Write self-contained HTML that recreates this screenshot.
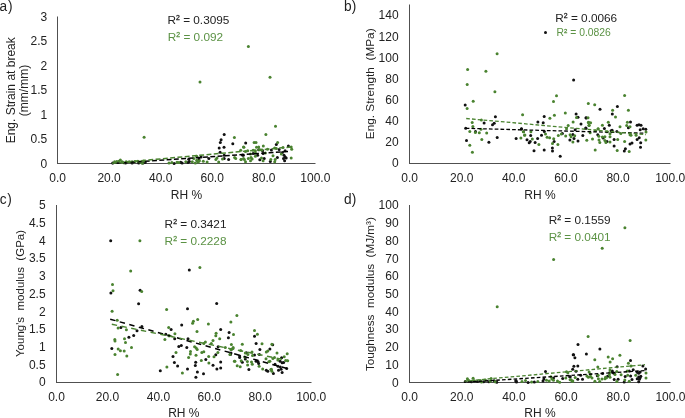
<!DOCTYPE html><html><head><meta charset="utf-8"><style>html,body{margin:0;padding:0;background:#fff;width:685px;height:418px;overflow:hidden}svg{display:block;will-change:transform}text{font-family:"Liberation Sans",sans-serif;font-size:12px;fill:#222}</style></head><body>
<svg width="685" height="418" viewBox="0 0 685 418">
<g><text transform="translate(-0.6 10.9) scale(1 1.07)" style="font-size:13.7px">a<tspan dx="0.9">)</tspan></text><text x="15.1" y="90.3" text-anchor="middle" style="font-size:12px;white-space:pre" transform="rotate(-90 15.1 90.3)">Eng. Strain at break</text><text x="28.4" y="90.5" text-anchor="middle" style="font-size:12px;white-space:pre" transform="rotate(-90 28.4 90.5)">(mm/mm)</text><text x="47.3" y="167.7" text-anchor="end">0</text><text x="47.3" y="143.2" text-anchor="end">0.5</text><text x="47.3" y="118.7" text-anchor="end">1</text><text x="47.3" y="94.2" text-anchor="end">1.5</text><text x="47.3" y="69.8" text-anchor="end">2</text><text x="47.3" y="45.3" text-anchor="end">2.5</text><text x="47.3" y="20.8" text-anchor="end">3</text><text x="57.6" y="182.0" text-anchor="middle">0.0</text><text x="109.1" y="182.0" text-anchor="middle">20.0</text><text x="160.7" y="182.0" text-anchor="middle">40.0</text><text x="212.2" y="182.0" text-anchor="middle">60.0</text><text x="263.8" y="182.0" text-anchor="middle">80.0</text><text x="315.3" y="182.0" text-anchor="middle">100.0</text><text x="186.5" y="199.0" text-anchor="middle">RH %</text><rect x="57.00" y="16.50" width="1" height="147.50" fill="#505050"/><rect x="57.00" y="163.00" width="258.50" height="1" fill="#505050"/><circle cx="112.7" cy="163.0" r="1.5" fill="#111"/><circle cx="125.5" cy="163.1" r="1.5" fill="#111"/><circle cx="132.1" cy="163.1" r="1.5" fill="#111"/><circle cx="138.7" cy="163.1" r="1.5" fill="#111"/><circle cx="143.0" cy="163.0" r="1.5" fill="#111"/><circle cx="145.2" cy="162.4" r="1.5" fill="#111"/><circle cx="174.1" cy="163.4" r="1.5" fill="#111"/><circle cx="180.7" cy="162.2" r="1.5" fill="#111"/><circle cx="182.1" cy="162.9" r="1.5" fill="#111"/><circle cx="188.0" cy="162.5" r="1.5" fill="#111"/><circle cx="189.4" cy="161.4" r="1.5" fill="#111"/><circle cx="188.7" cy="159.2" r="1.5" fill="#111"/><circle cx="197.8" cy="161.4" r="1.5" fill="#111"/><circle cx="198.9" cy="158.9" r="1.5" fill="#111"/><circle cx="224.2" cy="134.5" r="1.5" fill="#111"/><circle cx="221.1" cy="139.8" r="1.5" fill="#111"/><circle cx="220.3" cy="142.6" r="1.5" fill="#111"/><circle cx="219.2" cy="148.1" r="1.5" fill="#111"/><circle cx="224.0" cy="147.3" r="1.5" fill="#111"/><circle cx="232.8" cy="143.7" r="1.5" fill="#111"/><circle cx="220.1" cy="152.3" r="1.5" fill="#111"/><circle cx="201.1" cy="156.9" r="1.5" fill="#111"/><circle cx="208.8" cy="158.5" r="1.5" fill="#111"/><circle cx="224.2" cy="155.2" r="1.5" fill="#111"/><circle cx="224.2" cy="158.5" r="1.5" fill="#111"/><circle cx="228.6" cy="159.4" r="1.5" fill="#111"/><circle cx="242.4" cy="155.0" r="1.5" fill="#111"/><circle cx="245.7" cy="142.9" r="1.5" fill="#111"/><circle cx="276.3" cy="144.4" r="1.5" fill="#111"/><circle cx="288.4" cy="146.1" r="1.5" fill="#111"/><circle cx="258.7" cy="149.7" r="1.5" fill="#111"/><circle cx="262.6" cy="150.8" r="1.5" fill="#111"/><circle cx="271.4" cy="149.9" r="1.5" fill="#111"/><circle cx="279.1" cy="149.5" r="1.5" fill="#111"/><circle cx="285.1" cy="150.8" r="1.5" fill="#111"/><circle cx="282.4" cy="152.5" r="1.5" fill="#111"/><circle cx="243.3" cy="155.2" r="1.5" fill="#111"/><circle cx="253.2" cy="153.6" r="1.5" fill="#111"/><circle cx="257.6" cy="155.2" r="1.5" fill="#111"/><circle cx="263.1" cy="153.6" r="1.5" fill="#111"/><circle cx="284.0" cy="155.2" r="1.5" fill="#111"/><circle cx="285.1" cy="156.9" r="1.5" fill="#111"/><circle cx="286.2" cy="158.0" r="1.5" fill="#111"/><circle cx="283.5" cy="158.5" r="1.5" fill="#111"/><circle cx="277.4" cy="157.4" r="1.5" fill="#111"/><circle cx="264.2" cy="158.5" r="1.5" fill="#111"/><circle cx="259.8" cy="159.8" r="1.5" fill="#111"/><circle cx="270.3" cy="161.6" r="1.5" fill="#111"/><circle cx="284.6" cy="160.7" r="1.5" fill="#111"/><circle cx="248.4" cy="46.5" r="1.5" fill="#4a8330"/><circle cx="200.0" cy="82.0" r="1.5" fill="#4a8330"/><circle cx="270.0" cy="77.2" r="1.5" fill="#4a8330"/><circle cx="144.1" cy="137.3" r="1.5" fill="#4a8330"/><circle cx="114.6" cy="161.7" r="1.5" fill="#4a8330"/><circle cx="116.8" cy="161.5" r="1.5" fill="#4a8330"/><circle cx="118.9" cy="161.3" r="1.5" fill="#4a8330"/><circle cx="120.4" cy="159.9" r="1.5" fill="#4a8330"/><circle cx="122.2" cy="161.7" r="1.5" fill="#4a8330"/><circle cx="123.7" cy="162.8" r="1.5" fill="#4a8330"/><circle cx="126.2" cy="161.7" r="1.5" fill="#4a8330"/><circle cx="129.2" cy="161.8" r="1.5" fill="#4a8330"/><circle cx="132.1" cy="161.7" r="1.5" fill="#4a8330"/><circle cx="135.0" cy="161.5" r="1.5" fill="#4a8330"/><circle cx="137.9" cy="161.3" r="1.5" fill="#4a8330"/><circle cx="140.1" cy="162.0" r="1.5" fill="#4a8330"/><circle cx="142.3" cy="163.3" r="1.5" fill="#4a8330"/><circle cx="143.8" cy="161.0" r="1.5" fill="#4a8330"/><circle cx="169.0" cy="162.9" r="1.5" fill="#4a8330"/><circle cx="171.9" cy="162.5" r="1.5" fill="#4a8330"/><circle cx="177.0" cy="162.2" r="1.5" fill="#4a8330"/><circle cx="178.8" cy="162.5" r="1.5" fill="#4a8330"/><circle cx="185.8" cy="161.8" r="1.5" fill="#4a8330"/><circle cx="192.3" cy="161.8" r="1.5" fill="#4a8330"/><circle cx="195.3" cy="162.9" r="1.5" fill="#4a8330"/><circle cx="196.7" cy="160.3" r="1.5" fill="#4a8330"/><circle cx="193.8" cy="158.5" r="1.5" fill="#4a8330"/><circle cx="234.4" cy="137.4" r="1.5" fill="#4a8330"/><circle cx="243.5" cy="147.0" r="1.5" fill="#4a8330"/><circle cx="240.7" cy="150.3" r="1.5" fill="#4a8330"/><circle cx="196.7" cy="156.3" r="1.5" fill="#4a8330"/><circle cx="199.4" cy="160.7" r="1.5" fill="#4a8330"/><circle cx="203.3" cy="161.3" r="1.5" fill="#4a8330"/><circle cx="207.1" cy="161.9" r="1.5" fill="#4a8330"/><circle cx="215.9" cy="159.4" r="1.5" fill="#4a8330"/><circle cx="217.0" cy="158.0" r="1.5" fill="#4a8330"/><circle cx="218.7" cy="161.9" r="1.5" fill="#4a8330"/><circle cx="222.5" cy="159.1" r="1.5" fill="#4a8330"/><circle cx="234.6" cy="157.4" r="1.5" fill="#4a8330"/><circle cx="235.7" cy="158.5" r="1.5" fill="#4a8330"/><circle cx="241.0" cy="159.4" r="1.5" fill="#4a8330"/><circle cx="243.5" cy="158.5" r="1.5" fill="#4a8330"/><circle cx="198.3" cy="161.9" r="1.5" fill="#4a8330"/><circle cx="275.5" cy="126.3" r="1.5" fill="#4a8330"/><circle cx="265.9" cy="134.5" r="1.5" fill="#4a8330"/><circle cx="254.1" cy="142.6" r="1.5" fill="#4a8330"/><circle cx="256.0" cy="142.6" r="1.5" fill="#4a8330"/><circle cx="277.6" cy="142.6" r="1.5" fill="#4a8330"/><circle cx="243.9" cy="147.3" r="1.5" fill="#4a8330"/><circle cx="263.3" cy="146.1" r="1.5" fill="#4a8330"/><circle cx="256.5" cy="147.3" r="1.5" fill="#4a8330"/><circle cx="258.7" cy="147.0" r="1.5" fill="#4a8330"/><circle cx="291.2" cy="147.0" r="1.5" fill="#4a8330"/><circle cx="291.7" cy="149.2" r="1.5" fill="#4a8330"/><circle cx="245.5" cy="151.4" r="1.5" fill="#4a8330"/><circle cx="247.7" cy="150.8" r="1.5" fill="#4a8330"/><circle cx="253.2" cy="150.3" r="1.5" fill="#4a8330"/><circle cx="255.4" cy="150.8" r="1.5" fill="#4a8330"/><circle cx="259.8" cy="149.7" r="1.5" fill="#4a8330"/><circle cx="262.0" cy="149.9" r="1.5" fill="#4a8330"/><circle cx="274.7" cy="148.1" r="1.5" fill="#4a8330"/><circle cx="276.3" cy="148.6" r="1.5" fill="#4a8330"/><circle cx="250.5" cy="154.1" r="1.5" fill="#4a8330"/><circle cx="255.4" cy="153.0" r="1.5" fill="#4a8330"/><circle cx="265.3" cy="153.0" r="1.5" fill="#4a8330"/><circle cx="273.0" cy="155.8" r="1.5" fill="#4a8330"/><circle cx="281.3" cy="154.1" r="1.5" fill="#4a8330"/><circle cx="291.2" cy="158.0" r="1.5" fill="#4a8330"/><circle cx="241.1" cy="159.6" r="1.5" fill="#4a8330"/><circle cx="244.4" cy="159.6" r="1.5" fill="#4a8330"/><circle cx="248.3" cy="158.5" r="1.5" fill="#4a8330"/><circle cx="251.0" cy="157.4" r="1.5" fill="#4a8330"/><circle cx="252.1" cy="159.1" r="1.5" fill="#4a8330"/><circle cx="255.4" cy="156.3" r="1.5" fill="#4a8330"/><circle cx="261.5" cy="158.0" r="1.5" fill="#4a8330"/><circle cx="263.1" cy="160.7" r="1.5" fill="#4a8330"/><circle cx="270.8" cy="159.6" r="1.5" fill="#4a8330"/><circle cx="275.2" cy="159.6" r="1.5" fill="#4a8330"/><circle cx="274.7" cy="161.8" r="1.5" fill="#4a8330"/><circle cx="245.5" cy="161.8" r="1.5" fill="#4a8330"/><circle cx="250.5" cy="160.7" r="1.5" fill="#4a8330"/><circle cx="267.5" cy="149.2" r="1.5" fill="#4a8330"/><circle cx="283.0" cy="147.4" r="1.5" fill="#4a8330"/><line x1="112.0" y1="163.5" x2="290.0" y2="151.3" stroke="#000" stroke-width="1.5" stroke-dasharray="4.9 2.4" stroke-dashoffset="3.65"/><line x1="112.0" y1="163.3" x2="292.0" y2="146.9" stroke="#4a8330" stroke-width="1.5" stroke-dasharray="4.9 2.4" stroke-dashoffset="0"/><text x="167.5" y="24.0" style="font-size:11.8px;color:#222">R<tspan style="font-size:6.88px;stroke:currentColor;stroke-width:0.3" dy="-3.84">2</tspan><tspan dy="3.84"> = 0.3095</tspan></text><text x="167.8" y="40.6" style="font-size:11.8px;fill:#5b9244;color:#5b9244">R<tspan style="font-size:6.88px;stroke:currentColor;stroke-width:0.3" dy="-3.84">2</tspan><tspan dy="3.84"> = 0.092</tspan></text></g>
<g><text transform="translate(343.9 10.9) scale(1 1.07)" style="font-size:13.7px">b<tspan dx="0.3">)</tspan></text><text x="373.7" y="83.8" text-anchor="middle" style="font-size:11.8px;white-space:pre" transform="rotate(-90 373.7 83.8)">Eng. Strength &#160;(MPa)</text><text x="398.6" y="167.3" text-anchor="end">0</text><text x="398.6" y="146.2" text-anchor="end">20</text><text x="398.6" y="125.0" text-anchor="end">40</text><text x="398.6" y="103.9" text-anchor="end">60</text><text x="398.6" y="82.8" text-anchor="end">80</text><text x="398.6" y="61.6" text-anchor="end">100</text><text x="398.6" y="40.5" text-anchor="end">120</text><text x="398.6" y="19.4" text-anchor="end">140</text><text x="409.6" y="182.0" text-anchor="middle">0.0</text><text x="461.7" y="182.0" text-anchor="middle">20.0</text><text x="513.8" y="182.0" text-anchor="middle">40.0</text><text x="566.0" y="182.0" text-anchor="middle">60.0</text><text x="618.1" y="182.0" text-anchor="middle">80.0</text><text x="670.2" y="182.0" text-anchor="middle">100.0</text><text x="539.9" y="199.0" text-anchor="middle">RH %</text><rect x="409.00" y="4.50" width="1" height="159.50" fill="#505050"/><rect x="409.00" y="163.00" width="261.50" height="1" fill="#505050"/><circle cx="545.5" cy="32.4" r="1.5" fill="#111"/><circle cx="465.2" cy="105.1" r="1.5" fill="#111"/><circle cx="495.4" cy="116.8" r="1.5" fill="#111"/><circle cx="484.1" cy="123.0" r="1.5" fill="#111"/><circle cx="492.5" cy="124.8" r="1.5" fill="#111"/><circle cx="494.2" cy="123.2" r="1.5" fill="#111"/><circle cx="465.7" cy="128.3" r="1.5" fill="#111"/><circle cx="475.5" cy="131.6" r="1.5" fill="#111"/><circle cx="466.5" cy="140.4" r="1.5" fill="#111"/><circle cx="488.9" cy="142.2" r="1.5" fill="#111"/><circle cx="497.2" cy="137.5" r="1.5" fill="#111"/><circle cx="516.1" cy="138.6" r="1.5" fill="#111"/><circle cx="521.4" cy="129.0" r="1.5" fill="#111"/><circle cx="573.6" cy="80.1" r="1.5" fill="#111"/><circle cx="544.2" cy="116.4" r="1.5" fill="#111"/><circle cx="576.1" cy="113.9" r="1.5" fill="#111"/><circle cx="578.0" cy="117.3" r="1.5" fill="#111"/><circle cx="586.2" cy="117.9" r="1.5" fill="#111"/><circle cx="537.9" cy="121.9" r="1.5" fill="#111"/><circle cx="543.2" cy="122.7" r="1.5" fill="#111"/><circle cx="581.0" cy="124.0" r="1.5" fill="#111"/><circle cx="521.5" cy="128.7" r="1.5" fill="#111"/><circle cx="544.3" cy="131.4" r="1.5" fill="#111"/><circle cx="575.2" cy="129.8" r="1.5" fill="#111"/><circle cx="585.9" cy="128.3" r="1.5" fill="#111"/><circle cx="530.7" cy="135.5" r="1.5" fill="#111"/><circle cx="541.5" cy="135.2" r="1.5" fill="#111"/><circle cx="562.4" cy="133.6" r="1.5" fill="#111"/><circle cx="572.9" cy="134.6" r="1.5" fill="#111"/><circle cx="582.8" cy="135.5" r="1.5" fill="#111"/><circle cx="527.0" cy="139.7" r="1.5" fill="#111"/><circle cx="537.6" cy="138.5" r="1.5" fill="#111"/><circle cx="530.2" cy="141.4" r="1.5" fill="#111"/><circle cx="529.2" cy="142.7" r="1.5" fill="#111"/><circle cx="535.1" cy="142.6" r="1.5" fill="#111"/><circle cx="554.1" cy="141.6" r="1.5" fill="#111"/><circle cx="569.9" cy="140.0" r="1.5" fill="#111"/><circle cx="574.0" cy="138.6" r="1.5" fill="#111"/><circle cx="578.0" cy="141.1" r="1.5" fill="#111"/><circle cx="534.0" cy="150.8" r="1.5" fill="#111"/><circle cx="544.2" cy="150.0" r="1.5" fill="#111"/><circle cx="552.4" cy="148.0" r="1.5" fill="#111"/><circle cx="552.5" cy="151.1" r="1.5" fill="#111"/><circle cx="560.2" cy="156.2" r="1.5" fill="#111"/><circle cx="600.0" cy="109.2" r="1.5" fill="#111"/><circle cx="617.4" cy="106.6" r="1.5" fill="#111"/><circle cx="612.3" cy="114.0" r="1.5" fill="#111"/><circle cx="586.0" cy="117.8" r="1.5" fill="#111"/><circle cx="609.3" cy="125.3" r="1.5" fill="#111"/><circle cx="604.4" cy="128.4" r="1.5" fill="#111"/><circle cx="630.5" cy="121.9" r="1.5" fill="#111"/><circle cx="628.4" cy="127.8" r="1.5" fill="#111"/><circle cx="637.1" cy="125.3" r="1.5" fill="#111"/><circle cx="639.0" cy="124.7" r="1.5" fill="#111"/><circle cx="641.0" cy="125.3" r="1.5" fill="#111"/><circle cx="643.2" cy="128.8" r="1.5" fill="#111"/><circle cx="645.8" cy="129.2" r="1.5" fill="#111"/><circle cx="585.8" cy="128.1" r="1.5" fill="#111"/><circle cx="611.1" cy="130.7" r="1.5" fill="#111"/><circle cx="612.1" cy="130.2" r="1.5" fill="#111"/><circle cx="616.9" cy="131.4" r="1.5" fill="#111"/><circle cx="640.2" cy="129.7" r="1.5" fill="#111"/><circle cx="597.8" cy="134.8" r="1.5" fill="#111"/><circle cx="603.2" cy="138.1" r="1.5" fill="#111"/><circle cx="607.0" cy="141.6" r="1.5" fill="#111"/><circle cx="614.1" cy="139.6" r="1.5" fill="#111"/><circle cx="614.1" cy="146.0" r="1.5" fill="#111"/><circle cx="637.1" cy="139.4" r="1.5" fill="#111"/><circle cx="639.2" cy="137.8" r="1.5" fill="#111"/><circle cx="630.0" cy="144.0" r="1.5" fill="#111"/><circle cx="632.0" cy="143.0" r="1.5" fill="#111"/><circle cx="640.7" cy="142.7" r="1.5" fill="#111"/><circle cx="640.5" cy="147.3" r="1.5" fill="#111"/><circle cx="625.4" cy="148.8" r="1.5" fill="#111"/><circle cx="624.3" cy="151.1" r="1.5" fill="#111"/><circle cx="497.1" cy="53.7" r="1.5" fill="#4a8330"/><circle cx="467.6" cy="69.6" r="1.5" fill="#4a8330"/><circle cx="485.9" cy="71.2" r="1.5" fill="#4a8330"/><circle cx="467.2" cy="84.5" r="1.5" fill="#4a8330"/><circle cx="494.9" cy="91.7" r="1.5" fill="#4a8330"/><circle cx="473.2" cy="101.2" r="1.5" fill="#4a8330"/><circle cx="467.1" cy="108.6" r="1.5" fill="#4a8330"/><circle cx="522.6" cy="114.8" r="1.5" fill="#4a8330"/><circle cx="472.2" cy="122.4" r="1.5" fill="#4a8330"/><circle cx="472.9" cy="126.4" r="1.5" fill="#4a8330"/><circle cx="481.4" cy="120.1" r="1.5" fill="#4a8330"/><circle cx="469.8" cy="131.5" r="1.5" fill="#4a8330"/><circle cx="475.4" cy="132.6" r="1.5" fill="#4a8330"/><circle cx="479.3" cy="132.7" r="1.5" fill="#4a8330"/><circle cx="481.0" cy="129.2" r="1.5" fill="#4a8330"/><circle cx="486.7" cy="133.0" r="1.5" fill="#4a8330"/><circle cx="481.8" cy="139.4" r="1.5" fill="#4a8330"/><circle cx="469.8" cy="145.3" r="1.5" fill="#4a8330"/><circle cx="472.4" cy="152.3" r="1.5" fill="#4a8330"/><circle cx="520.9" cy="138.1" r="1.5" fill="#4a8330"/><circle cx="523.3" cy="131.7" r="1.5" fill="#4a8330"/><circle cx="524.5" cy="135.3" r="1.5" fill="#4a8330"/><circle cx="556.5" cy="95.8" r="1.5" fill="#4a8330"/><circle cx="553.5" cy="101.5" r="1.5" fill="#4a8330"/><circle cx="588.3" cy="103.4" r="1.5" fill="#4a8330"/><circle cx="549.9" cy="118.3" r="1.5" fill="#4a8330"/><circle cx="554.4" cy="115.2" r="1.5" fill="#4a8330"/><circle cx="565.3" cy="112.9" r="1.5" fill="#4a8330"/><circle cx="576.5" cy="117.5" r="1.5" fill="#4a8330"/><circle cx="588.0" cy="117.8" r="1.5" fill="#4a8330"/><circle cx="573.1" cy="121.9" r="1.5" fill="#4a8330"/><circle cx="568.2" cy="125.4" r="1.5" fill="#4a8330"/><circle cx="588.3" cy="122.4" r="1.5" fill="#4a8330"/><circle cx="589.0" cy="125.4" r="1.5" fill="#4a8330"/><circle cx="523.6" cy="131.8" r="1.5" fill="#4a8330"/><circle cx="530.9" cy="131.8" r="1.5" fill="#4a8330"/><circle cx="566.5" cy="128.7" r="1.5" fill="#4a8330"/><circle cx="524.9" cy="135.1" r="1.5" fill="#4a8330"/><circle cx="545.5" cy="134.1" r="1.5" fill="#4a8330"/><circle cx="547.1" cy="137.2" r="1.5" fill="#4a8330"/><circle cx="549.6" cy="137.7" r="1.5" fill="#4a8330"/><circle cx="558.3" cy="135.5" r="1.5" fill="#4a8330"/><circle cx="561.4" cy="134.1" r="1.5" fill="#4a8330"/><circle cx="565.7" cy="135.9" r="1.5" fill="#4a8330"/><circle cx="570.1" cy="134.8" r="1.5" fill="#4a8330"/><circle cx="574.7" cy="135.7" r="1.5" fill="#4a8330"/><circle cx="532.3" cy="138.9" r="1.5" fill="#4a8330"/><circle cx="553.7" cy="138.7" r="1.5" fill="#4a8330"/><circle cx="552.5" cy="143.6" r="1.5" fill="#4a8330"/><circle cx="538.9" cy="144.5" r="1.5" fill="#4a8330"/><circle cx="557.9" cy="144.6" r="1.5" fill="#4a8330"/><circle cx="571.1" cy="136.7" r="1.5" fill="#4a8330"/><circle cx="572.9" cy="142.1" r="1.5" fill="#4a8330"/><circle cx="586.8" cy="140.2" r="1.5" fill="#4a8330"/><circle cx="624.6" cy="95.4" r="1.5" fill="#4a8330"/><circle cx="594.7" cy="104.8" r="1.5" fill="#4a8330"/><circle cx="612.6" cy="110.2" r="1.5" fill="#4a8330"/><circle cx="628.4" cy="110.2" r="1.5" fill="#4a8330"/><circle cx="615.5" cy="117.1" r="1.5" fill="#4a8330"/><circle cx="588.6" cy="122.2" r="1.5" fill="#4a8330"/><circle cx="590.6" cy="122.7" r="1.5" fill="#4a8330"/><circle cx="589.1" cy="125.3" r="1.5" fill="#4a8330"/><circle cx="608.3" cy="122.2" r="1.5" fill="#4a8330"/><circle cx="602.4" cy="125.3" r="1.5" fill="#4a8330"/><circle cx="598.1" cy="128.8" r="1.5" fill="#4a8330"/><circle cx="620.0" cy="126.8" r="1.5" fill="#4a8330"/><circle cx="627.4" cy="122.2" r="1.5" fill="#4a8330"/><circle cx="626.7" cy="125.6" r="1.5" fill="#4a8330"/><circle cx="630.0" cy="126.8" r="1.5" fill="#4a8330"/><circle cx="598.1" cy="129.0" r="1.5" fill="#4a8330"/><circle cx="646.0" cy="132.0" r="1.5" fill="#4a8330"/><circle cx="590.1" cy="132.7" r="1.5" fill="#4a8330"/><circle cx="595.2" cy="130.7" r="1.5" fill="#4a8330"/><circle cx="607.0" cy="131.7" r="1.5" fill="#4a8330"/><circle cx="610.0" cy="133.8" r="1.5" fill="#4a8330"/><circle cx="598.8" cy="136.3" r="1.5" fill="#4a8330"/><circle cx="602.4" cy="137.1" r="1.5" fill="#4a8330"/><circle cx="604.9" cy="136.8" r="1.5" fill="#4a8330"/><circle cx="610.0" cy="136.8" r="1.5" fill="#4a8330"/><circle cx="592.5" cy="138.9" r="1.5" fill="#4a8330"/><circle cx="599.0" cy="139.9" r="1.5" fill="#4a8330"/><circle cx="599.8" cy="142.4" r="1.5" fill="#4a8330"/><circle cx="604.9" cy="140.4" r="1.5" fill="#4a8330"/><circle cx="605.9" cy="142.4" r="1.5" fill="#4a8330"/><circle cx="610.0" cy="141.9" r="1.5" fill="#4a8330"/><circle cx="617.7" cy="139.4" r="1.5" fill="#4a8330"/><circle cx="595.2" cy="150.1" r="1.5" fill="#4a8330"/><circle cx="617.2" cy="150.6" r="1.5" fill="#4a8330"/><circle cx="624.6" cy="141.4" r="1.5" fill="#4a8330"/><circle cx="620.8" cy="133.4" r="1.5" fill="#4a8330"/><circle cx="630.0" cy="134.8" r="1.5" fill="#4a8330"/><circle cx="631.0" cy="135.3" r="1.5" fill="#4a8330"/><circle cx="636.1" cy="135.3" r="1.5" fill="#4a8330"/><circle cx="629.2" cy="151.4" r="1.5" fill="#4a8330"/><circle cx="645.8" cy="139.9" r="1.5" fill="#4a8330"/><line x1="465.7" y1="128.3" x2="644.3" y2="133.2" stroke="#000" stroke-width="1.3" stroke-dasharray="3.7 2.1" stroke-dashoffset="0"/><line x1="466.2" y1="118.5" x2="646.0" y2="134.7" stroke="#4a8330" stroke-width="1.3" stroke-dasharray="3.7 2.1" stroke-dashoffset="0"/><text x="555.3" y="21.5" style="font-size:11.8px;color:#222">R<tspan style="font-size:6.88px;stroke:currentColor;stroke-width:0.3" dy="-3.84">2</tspan><tspan dy="3.84"> = 0.0066</tspan></text><text x="556.5" y="36.0" style="font-size:10.35px;fill:#5b9244;color:#5b9244">R<tspan style="font-size:6.04px;stroke:currentColor;stroke-width:0.3" dy="-3.36">2</tspan><tspan dy="3.36"> = 0.0826</tspan></text></g>
<g><text transform="translate(-0.2 203.9) scale(1 1.07)" style="font-size:13.7px">c<tspan dx="0.6">)</tspan></text><text x="24.3" y="293.5" text-anchor="middle" style="font-size:11.5px;white-space:pre" transform="rotate(-90 24.3 293.5)">Young's &#160;modulus &#160;(GPa)</text><text x="45.6" y="386.3" text-anchor="end">0</text><text x="45.6" y="368.6" text-anchor="end">0.5</text><text x="45.6" y="350.9" text-anchor="end">1</text><text x="45.6" y="333.2" text-anchor="end">1.5</text><text x="45.6" y="315.5" text-anchor="end">2</text><text x="45.6" y="297.8" text-anchor="end">2.5</text><text x="45.6" y="280.1" text-anchor="end">3</text><text x="45.6" y="262.4" text-anchor="end">3.5</text><text x="45.6" y="244.7" text-anchor="end">4</text><text x="45.6" y="227.0" text-anchor="end">4.5</text><text x="45.6" y="209.3" text-anchor="end">5</text><text x="56.5" y="401.0" text-anchor="middle">0.0</text><text x="107.4" y="401.0" text-anchor="middle">20.0</text><text x="158.4" y="401.0" text-anchor="middle">40.0</text><text x="209.3" y="401.0" text-anchor="middle">60.0</text><text x="260.3" y="401.0" text-anchor="middle">80.0</text><text x="311.2" y="401.0" text-anchor="middle">100.0</text><text x="183.8" y="417.3" text-anchor="middle">RH %</text><rect x="56.00" y="205.00" width="1" height="178.00" fill="#505050"/><rect x="56.00" y="382.00" width="255.50" height="1" fill="#505050"/><circle cx="110.7" cy="240.7" r="1.5" fill="#111"/><circle cx="110.9" cy="293.1" r="1.5" fill="#111"/><circle cx="140.1" cy="290.3" r="1.5" fill="#111"/><circle cx="138.6" cy="303.8" r="1.5" fill="#111"/><circle cx="120.9" cy="327.6" r="1.5" fill="#111"/><circle cx="137.0" cy="330.7" r="1.5" fill="#111"/><circle cx="133.7" cy="335.6" r="1.5" fill="#111"/><circle cx="128.9" cy="337.3" r="1.5" fill="#111"/><circle cx="141.9" cy="326.6" r="1.5" fill="#111"/><circle cx="111.8" cy="348.5" r="1.5" fill="#111"/><circle cx="160.3" cy="370.8" r="1.5" fill="#111"/><circle cx="189.3" cy="270.1" r="1.5" fill="#111"/><circle cx="187.5" cy="308.7" r="1.5" fill="#111"/><circle cx="216.7" cy="303.4" r="1.5" fill="#111"/><circle cx="181.7" cy="325.0" r="1.5" fill="#111"/><circle cx="171.1" cy="329.5" r="1.5" fill="#111"/><circle cx="220.7" cy="329.6" r="1.5" fill="#111"/><circle cx="165.8" cy="334.2" r="1.5" fill="#111"/><circle cx="174.7" cy="338.8" r="1.5" fill="#111"/><circle cx="188.0" cy="338.8" r="1.5" fill="#111"/><circle cx="229.1" cy="332.5" r="1.5" fill="#111"/><circle cx="228.4" cy="337.8" r="1.5" fill="#111"/><circle cx="178.8" cy="346.5" r="1.5" fill="#111"/><circle cx="181.3" cy="345.4" r="1.5" fill="#111"/><circle cx="186.8" cy="347.5" r="1.5" fill="#111"/><circle cx="218.1" cy="346.7" r="1.5" fill="#111"/><circle cx="173.0" cy="356.5" r="1.5" fill="#111"/><circle cx="215.8" cy="354.8" r="1.5" fill="#111"/><circle cx="174.4" cy="362.6" r="1.5" fill="#111"/><circle cx="195.7" cy="362.3" r="1.5" fill="#111"/><circle cx="205.8" cy="359.5" r="1.5" fill="#111"/><circle cx="220.7" cy="361.9" r="1.5" fill="#111"/><circle cx="177.6" cy="366.0" r="1.5" fill="#111"/><circle cx="187.5" cy="369.0" r="1.5" fill="#111"/><circle cx="195.3" cy="365.4" r="1.5" fill="#111"/><circle cx="197.4" cy="371.9" r="1.5" fill="#111"/><circle cx="195.9" cy="377.2" r="1.5" fill="#111"/><circle cx="203.5" cy="373.7" r="1.5" fill="#111"/><circle cx="213.0" cy="365.2" r="1.5" fill="#111"/><circle cx="216.9" cy="369.0" r="1.5" fill="#111"/><circle cx="220.7" cy="368.0" r="1.5" fill="#111"/><circle cx="254.5" cy="336.3" r="1.5" fill="#111"/><circle cx="256.1" cy="343.5" r="1.5" fill="#111"/><circle cx="272.7" cy="344.8" r="1.5" fill="#111"/><circle cx="259.9" cy="349.6" r="1.5" fill="#111"/><circle cx="269.9" cy="349.1" r="1.5" fill="#111"/><circle cx="246.4" cy="352.7" r="1.5" fill="#111"/><circle cx="254.5" cy="355.0" r="1.5" fill="#111"/><circle cx="259.4" cy="354.5" r="1.5" fill="#111"/><circle cx="231.0" cy="353.0" r="1.5" fill="#111"/><circle cx="230.5" cy="354.5" r="1.5" fill="#111"/><circle cx="239.7" cy="356.1" r="1.5" fill="#111"/><circle cx="239.7" cy="357.6" r="1.5" fill="#111"/><circle cx="245.3" cy="359.1" r="1.5" fill="#111"/><circle cx="242.3" cy="362.2" r="1.5" fill="#111"/><circle cx="256.1" cy="361.2" r="1.5" fill="#111"/><circle cx="258.1" cy="361.7" r="1.5" fill="#111"/><circle cx="258.6" cy="363.5" r="1.5" fill="#111"/><circle cx="275.0" cy="364.3" r="1.5" fill="#111"/><circle cx="281.6" cy="357.8" r="1.5" fill="#111"/><circle cx="280.1" cy="361.2" r="1.5" fill="#111"/><circle cx="282.1" cy="362.7" r="1.5" fill="#111"/><circle cx="283.6" cy="362.5" r="1.5" fill="#111"/><circle cx="278.0" cy="366.3" r="1.5" fill="#111"/><circle cx="280.3" cy="367.0" r="1.5" fill="#111"/><circle cx="248.9" cy="369.6" r="1.5" fill="#111"/><circle cx="286.7" cy="368.4" r="1.5" fill="#111"/><circle cx="266.3" cy="370.3" r="1.5" fill="#111"/><circle cx="267.8" cy="371.3" r="1.5" fill="#111"/><circle cx="273.4" cy="373.6" r="1.5" fill="#111"/><circle cx="278.5" cy="370.3" r="1.5" fill="#111"/><circle cx="281.1" cy="369.3" r="1.5" fill="#111"/><circle cx="282.1" cy="372.6" r="1.5" fill="#111"/><circle cx="139.9" cy="240.7" r="1.5" fill="#4a8330"/><circle cx="130.7" cy="270.9" r="1.5" fill="#4a8330"/><circle cx="112.5" cy="284.6" r="1.5" fill="#4a8330"/><circle cx="113.0" cy="290.8" r="1.5" fill="#4a8330"/><circle cx="141.7" cy="291.4" r="1.5" fill="#4a8330"/><circle cx="112.1" cy="311.2" r="1.5" fill="#4a8330"/><circle cx="166.6" cy="309.4" r="1.5" fill="#4a8330"/><circle cx="117.2" cy="320.2" r="1.5" fill="#4a8330"/><circle cx="118.1" cy="328.1" r="1.5" fill="#4a8330"/><circle cx="126.4" cy="329.8" r="1.5" fill="#4a8330"/><circle cx="124.5" cy="338.7" r="1.5" fill="#4a8330"/><circle cx="168.7" cy="327.4" r="1.5" fill="#4a8330"/><circle cx="169.0" cy="335.8" r="1.5" fill="#4a8330"/><circle cx="164.9" cy="339.5" r="1.5" fill="#4a8330"/><circle cx="114.8" cy="339.6" r="1.5" fill="#4a8330"/><circle cx="115.0" cy="341.1" r="1.5" fill="#4a8330"/><circle cx="125.5" cy="342.4" r="1.5" fill="#4a8330"/><circle cx="118.2" cy="349.1" r="1.5" fill="#4a8330"/><circle cx="120.4" cy="350.8" r="1.5" fill="#4a8330"/><circle cx="124.2" cy="351.1" r="1.5" fill="#4a8330"/><circle cx="131.5" cy="347.6" r="1.5" fill="#4a8330"/><circle cx="115.0" cy="354.4" r="1.5" fill="#4a8330"/><circle cx="126.8" cy="356.0" r="1.5" fill="#4a8330"/><circle cx="166.9" cy="367.0" r="1.5" fill="#4a8330"/><circle cx="117.6" cy="374.5" r="1.5" fill="#4a8330"/><circle cx="199.9" cy="267.6" r="1.5" fill="#4a8330"/><circle cx="197.7" cy="319.6" r="1.5" fill="#4a8330"/><circle cx="193.4" cy="321.2" r="1.5" fill="#4a8330"/><circle cx="192.6" cy="323.2" r="1.5" fill="#4a8330"/><circle cx="208.4" cy="323.9" r="1.5" fill="#4a8330"/><circle cx="230.9" cy="321.9" r="1.5" fill="#4a8330"/><circle cx="174.9" cy="333.7" r="1.5" fill="#4a8330"/><circle cx="169.1" cy="335.7" r="1.5" fill="#4a8330"/><circle cx="197.0" cy="331.6" r="1.5" fill="#4a8330"/><circle cx="216.1" cy="333.2" r="1.5" fill="#4a8330"/><circle cx="215.8" cy="335.7" r="1.5" fill="#4a8330"/><circle cx="233.5" cy="334.4" r="1.5" fill="#4a8330"/><circle cx="219.7" cy="338.8" r="1.5" fill="#4a8330"/><circle cx="213.0" cy="340.5" r="1.5" fill="#4a8330"/><circle cx="205.4" cy="341.9" r="1.5" fill="#4a8330"/><circle cx="203.8" cy="343.4" r="1.5" fill="#4a8330"/><circle cx="211.3" cy="343.6" r="1.5" fill="#4a8330"/><circle cx="194.6" cy="346.7" r="1.5" fill="#4a8330"/><circle cx="196.2" cy="348.0" r="1.5" fill="#4a8330"/><circle cx="197.2" cy="349.5" r="1.5" fill="#4a8330"/><circle cx="225.3" cy="347.5" r="1.5" fill="#4a8330"/><circle cx="231.4" cy="344.4" r="1.5" fill="#4a8330"/><circle cx="230.9" cy="349.5" r="1.5" fill="#4a8330"/><circle cx="233.0" cy="348.5" r="1.5" fill="#4a8330"/><circle cx="190.5" cy="351.6" r="1.5" fill="#4a8330"/><circle cx="190.3" cy="354.1" r="1.5" fill="#4a8330"/><circle cx="201.8" cy="352.4" r="1.5" fill="#4a8330"/><circle cx="203.8" cy="351.8" r="1.5" fill="#4a8330"/><circle cx="217.9" cy="352.6" r="1.5" fill="#4a8330"/><circle cx="176.0" cy="352.6" r="1.5" fill="#4a8330"/><circle cx="188.6" cy="357.4" r="1.5" fill="#4a8330"/><circle cx="196.0" cy="355.3" r="1.5" fill="#4a8330"/><circle cx="208.7" cy="356.5" r="1.5" fill="#4a8330"/><circle cx="214.0" cy="356.7" r="1.5" fill="#4a8330"/><circle cx="229.9" cy="354.6" r="1.5" fill="#4a8330"/><circle cx="201.3" cy="360.6" r="1.5" fill="#4a8330"/><circle cx="208.9" cy="363.1" r="1.5" fill="#4a8330"/><circle cx="234.4" cy="361.3" r="1.5" fill="#4a8330"/><circle cx="182.4" cy="373.1" r="1.5" fill="#4a8330"/><circle cx="236.9" cy="315.6" r="1.5" fill="#4a8330"/><circle cx="254.5" cy="330.6" r="1.5" fill="#4a8330"/><circle cx="257.4" cy="334.2" r="1.5" fill="#4a8330"/><circle cx="262.0" cy="343.8" r="1.5" fill="#4a8330"/><circle cx="271.9" cy="344.3" r="1.5" fill="#4a8330"/><circle cx="242.3" cy="344.3" r="1.5" fill="#4a8330"/><circle cx="233.1" cy="347.4" r="1.5" fill="#4a8330"/><circle cx="231.5" cy="349.4" r="1.5" fill="#4a8330"/><circle cx="267.8" cy="351.0" r="1.5" fill="#4a8330"/><circle cx="266.3" cy="352.0" r="1.5" fill="#4a8330"/><circle cx="277.0" cy="353.0" r="1.5" fill="#4a8330"/><circle cx="287.2" cy="353.7" r="1.5" fill="#4a8330"/><circle cx="240.7" cy="350.4" r="1.5" fill="#4a8330"/><circle cx="245.3" cy="353.0" r="1.5" fill="#4a8330"/><circle cx="247.9" cy="354.5" r="1.5" fill="#4a8330"/><circle cx="252.0" cy="352.0" r="1.5" fill="#4a8330"/><circle cx="252.5" cy="355.5" r="1.5" fill="#4a8330"/><circle cx="244.8" cy="357.1" r="1.5" fill="#4a8330"/><circle cx="234.9" cy="361.2" r="1.5" fill="#4a8330"/><circle cx="241.2" cy="360.7" r="1.5" fill="#4a8330"/><circle cx="247.4" cy="361.4" r="1.5" fill="#4a8330"/><circle cx="251.5" cy="361.9" r="1.5" fill="#4a8330"/><circle cx="252.3" cy="364.2" r="1.5" fill="#4a8330"/><circle cx="266.0" cy="358.8" r="1.5" fill="#4a8330"/><circle cx="272.9" cy="358.6" r="1.5" fill="#4a8330"/><circle cx="274.5" cy="357.6" r="1.5" fill="#4a8330"/><circle cx="277.8" cy="360.1" r="1.5" fill="#4a8330"/><circle cx="284.2" cy="356.8" r="1.5" fill="#4a8330"/><circle cx="269.9" cy="361.2" r="1.5" fill="#4a8330"/><circle cx="268.8" cy="361.7" r="1.5" fill="#4a8330"/><circle cx="285.7" cy="360.5" r="1.5" fill="#4a8330"/><circle cx="287.7" cy="360.8" r="1.5" fill="#4a8330"/><circle cx="237.2" cy="365.8" r="1.5" fill="#4a8330"/><circle cx="240.2" cy="366.7" r="1.5" fill="#4a8330"/><circle cx="247.6" cy="364.9" r="1.5" fill="#4a8330"/><circle cx="259.1" cy="366.2" r="1.5" fill="#4a8330"/><circle cx="262.7" cy="369.0" r="1.5" fill="#4a8330"/><circle cx="271.4" cy="369.2" r="1.5" fill="#4a8330"/><circle cx="270.9" cy="369.5" r="1.5" fill="#4a8330"/><circle cx="271.9" cy="371.3" r="1.5" fill="#4a8330"/><line x1="110.2" y1="319.2" x2="288.0" y2="368.8" stroke="#000" stroke-width="1.5" stroke-dasharray="5.4 4.5" stroke-dashoffset="0"/><line x1="111.8" y1="324.3" x2="288.0" y2="360.6" stroke="#4a8330" stroke-width="1.5" stroke-dasharray="5.4 4.5" stroke-dashoffset="0"/><text x="164.6" y="228.0" style="font-size:11.8px;color:#222">R<tspan style="font-size:6.88px;stroke:currentColor;stroke-width:0.3" dy="-3.84">2</tspan><tspan dy="3.84"> = 0.3421</tspan></text><text x="164.6" y="244.7" style="font-size:11.8px;fill:#5b9244;color:#5b9244">R<tspan style="font-size:6.88px;stroke:currentColor;stroke-width:0.3" dy="-3.84">2</tspan><tspan dy="3.84"> = 0.2228</tspan></text></g>
<g><text transform="translate(343.9 203.9) scale(1 1.07)" style="font-size:13.7px">d<tspan dx="0.3">)</tspan></text><text x="374.3" y="294.1" text-anchor="middle" style="font-size:11.7px;white-space:pre" transform="rotate(-90 374.3 294.1)">Toughness &#160;modulus &#160;(MJ/m³)</text><text x="398.6" y="386.6" text-anchor="end">0</text><text x="398.6" y="368.9" text-anchor="end">10</text><text x="398.6" y="351.1" text-anchor="end">20</text><text x="398.6" y="333.4" text-anchor="end">30</text><text x="398.6" y="315.7" text-anchor="end">40</text><text x="398.6" y="297.9" text-anchor="end">50</text><text x="398.6" y="280.2" text-anchor="end">60</text><text x="398.6" y="262.5" text-anchor="end">70</text><text x="398.6" y="244.8" text-anchor="end">80</text><text x="398.6" y="227.0" text-anchor="end">90</text><text x="398.6" y="209.3" text-anchor="end">100</text><text x="409.6" y="401.0" text-anchor="middle">0.0</text><text x="461.8" y="401.0" text-anchor="middle">20.0</text><text x="513.9" y="401.0" text-anchor="middle">40.0</text><text x="566.1" y="401.0" text-anchor="middle">60.0</text><text x="618.2" y="401.0" text-anchor="middle">80.0</text><text x="670.4" y="401.0" text-anchor="middle">100.0</text><text x="540.0" y="417.3" text-anchor="middle">RH %</text><rect x="409.00" y="205.00" width="1" height="178.00" fill="#505050"/><rect x="409.00" y="382.00" width="261.50" height="1" fill="#505050"/><circle cx="465.3" cy="381.4" r="1.5" fill="#111"/><circle cx="471.4" cy="381.7" r="1.5" fill="#111"/><circle cx="477.5" cy="381.4" r="1.5" fill="#111"/><circle cx="483.6" cy="381.7" r="1.5" fill="#111"/><circle cx="488.9" cy="381.7" r="1.5" fill="#111"/><circle cx="494.2" cy="380.8" r="1.5" fill="#111"/><circle cx="496.8" cy="382.3" r="1.5" fill="#111"/><circle cx="516.0" cy="380.8" r="1.5" fill="#111"/><circle cx="516.5" cy="382.0" r="1.5" fill="#111"/><circle cx="545.5" cy="371.5" r="1.5" fill="#111"/><circle cx="573.2" cy="354.8" r="1.5" fill="#111"/><circle cx="562.7" cy="378.5" r="1.5" fill="#111"/><circle cx="570.2" cy="376.7" r="1.5" fill="#111"/><circle cx="543.0" cy="381.1" r="1.5" fill="#111"/><circle cx="543.9" cy="378.9" r="1.5" fill="#111"/><circle cx="528.1" cy="382.4" r="1.5" fill="#111"/><circle cx="534.3" cy="382.0" r="1.5" fill="#111"/><circle cx="515.9" cy="381.1" r="1.5" fill="#111"/><circle cx="553.5" cy="378.0" r="1.5" fill="#111"/><circle cx="578.0" cy="344.4" r="1.5" fill="#111"/><circle cx="599.9" cy="349.0" r="1.5" fill="#111"/><circle cx="573.6" cy="354.8" r="1.5" fill="#111"/><circle cx="574.9" cy="357.7" r="1.5" fill="#111"/><circle cx="586.4" cy="354.1" r="1.5" fill="#111"/><circle cx="573.9" cy="366.3" r="1.5" fill="#111"/><circle cx="577.8" cy="366.1" r="1.5" fill="#111"/><circle cx="572.7" cy="369.2" r="1.5" fill="#111"/><circle cx="576.0" cy="371.3" r="1.5" fill="#111"/><circle cx="569.7" cy="376.8" r="1.5" fill="#111"/><circle cx="577.8" cy="379.3" r="1.5" fill="#111"/><circle cx="582.5" cy="379.3" r="1.5" fill="#111"/><circle cx="580.7" cy="375.3" r="1.5" fill="#111"/><circle cx="630.5" cy="360.6" r="1.5" fill="#111"/><circle cx="617.1" cy="366.8" r="1.5" fill="#111"/><circle cx="642.9" cy="365.9" r="1.5" fill="#111"/><circle cx="645.6" cy="369.1" r="1.5" fill="#111"/><circle cx="618.1" cy="379.2" r="1.5" fill="#111"/><circle cx="625.2" cy="376.6" r="1.5" fill="#111"/><circle cx="629.2" cy="371.1" r="1.5" fill="#111"/><circle cx="630.6" cy="375.9" r="1.5" fill="#111"/><circle cx="624.2" cy="382.1" r="1.5" fill="#111"/><circle cx="632.0" cy="379.5" r="1.5" fill="#111"/><circle cx="633.2" cy="369.7" r="1.5" fill="#111"/><circle cx="637.2" cy="372.2" r="1.5" fill="#111"/><circle cx="638.7" cy="373.3" r="1.5" fill="#111"/><circle cx="640.1" cy="371.9" r="1.5" fill="#111"/><circle cx="638.7" cy="377.0" r="1.5" fill="#111"/><circle cx="640.1" cy="377.7" r="1.5" fill="#111"/><circle cx="640.8" cy="376.2" r="1.5" fill="#111"/><circle cx="639.4" cy="379.2" r="1.5" fill="#111"/><circle cx="638.7" cy="381.7" r="1.5" fill="#111"/><circle cx="637.2" cy="378.8" r="1.5" fill="#111"/><circle cx="602.6" cy="373.6" r="1.5" fill="#111"/><circle cx="612.3" cy="370.9" r="1.5" fill="#111"/><circle cx="612.3" cy="372.3" r="1.5" fill="#111"/><circle cx="613.9" cy="373.3" r="1.5" fill="#111"/><circle cx="597.3" cy="375.7" r="1.5" fill="#111"/><circle cx="614.2" cy="379.6" r="1.5" fill="#111"/><circle cx="607.6" cy="376.2" r="1.5" fill="#111"/><circle cx="624.9" cy="227.8" r="1.5" fill="#4a8330"/><circle cx="602.2" cy="248.2" r="1.5" fill="#4a8330"/><circle cx="553.6" cy="259.4" r="1.5" fill="#4a8330"/><circle cx="497.2" cy="306.8" r="1.5" fill="#4a8330"/><circle cx="588.1" cy="336.6" r="1.5" fill="#4a8330"/><circle cx="630.1" cy="340.6" r="1.5" fill="#4a8330"/><circle cx="467.4" cy="378.8" r="1.5" fill="#4a8330"/><circle cx="468.8" cy="380.4" r="1.5" fill="#4a8330"/><circle cx="473.1" cy="378.2" r="1.5" fill="#4a8330"/><circle cx="474.4" cy="380.8" r="1.5" fill="#4a8330"/><circle cx="480.1" cy="380.4" r="1.5" fill="#4a8330"/><circle cx="481.5" cy="382.0" r="1.5" fill="#4a8330"/><circle cx="485.4" cy="380.0" r="1.5" fill="#4a8330"/><circle cx="491.1" cy="378.6" r="1.5" fill="#4a8330"/><circle cx="490.2" cy="381.3" r="1.5" fill="#4a8330"/><circle cx="495.0" cy="381.7" r="1.5" fill="#4a8330"/><circle cx="522.0" cy="381.5" r="1.5" fill="#4a8330"/><circle cx="525.5" cy="380.6" r="1.5" fill="#4a8330"/><circle cx="531.6" cy="382.0" r="1.5" fill="#4a8330"/><circle cx="537.8" cy="381.5" r="1.5" fill="#4a8330"/><circle cx="546.5" cy="380.2" r="1.5" fill="#4a8330"/><circle cx="549.2" cy="381.1" r="1.5" fill="#4a8330"/><circle cx="551.8" cy="378.9" r="1.5" fill="#4a8330"/><circle cx="553.5" cy="380.2" r="1.5" fill="#4a8330"/><circle cx="557.5" cy="381.1" r="1.5" fill="#4a8330"/><circle cx="559.7" cy="382.2" r="1.5" fill="#4a8330"/><circle cx="550.9" cy="376.7" r="1.5" fill="#4a8330"/><circle cx="565.8" cy="378.0" r="1.5" fill="#4a8330"/><circle cx="571.0" cy="379.8" r="1.5" fill="#4a8330"/><circle cx="572.8" cy="381.1" r="1.5" fill="#4a8330"/><circle cx="594.8" cy="359.7" r="1.5" fill="#4a8330"/><circle cx="608.2" cy="356.9" r="1.5" fill="#4a8330"/><circle cx="612.6" cy="358.8" r="1.5" fill="#4a8330"/><circle cx="610.1" cy="361.9" r="1.5" fill="#4a8330"/><circle cx="566.5" cy="371.7" r="1.5" fill="#4a8330"/><circle cx="567.9" cy="372.8" r="1.5" fill="#4a8330"/><circle cx="570.1" cy="379.7" r="1.5" fill="#4a8330"/><circle cx="572.3" cy="381.2" r="1.5" fill="#4a8330"/><circle cx="575.2" cy="377.5" r="1.5" fill="#4a8330"/><circle cx="586.9" cy="376.1" r="1.5" fill="#4a8330"/><circle cx="588.4" cy="377.2" r="1.5" fill="#4a8330"/><circle cx="590.5" cy="376.4" r="1.5" fill="#4a8330"/><circle cx="592.0" cy="377.9" r="1.5" fill="#4a8330"/><circle cx="590.5" cy="374.2" r="1.5" fill="#4a8330"/><circle cx="589.1" cy="372.0" r="1.5" fill="#4a8330"/><circle cx="594.9" cy="381.2" r="1.5" fill="#4a8330"/><circle cx="619.9" cy="355.2" r="1.5" fill="#4a8330"/><circle cx="628.4" cy="363.2" r="1.5" fill="#4a8330"/><circle cx="631.0" cy="366.0" r="1.5" fill="#4a8330"/><circle cx="646.0" cy="373.0" r="1.5" fill="#4a8330"/><circle cx="646.0" cy="378.1" r="1.5" fill="#4a8330"/><circle cx="616.8" cy="371.5" r="1.5" fill="#4a8330"/><circle cx="621.1" cy="374.8" r="1.5" fill="#4a8330"/><circle cx="616.9" cy="381.5" r="1.5" fill="#4a8330"/><circle cx="627.1" cy="371.1" r="1.5" fill="#4a8330"/><circle cx="627.7" cy="375.2" r="1.5" fill="#4a8330"/><circle cx="624.8" cy="379.9" r="1.5" fill="#4a8330"/><circle cx="629.2" cy="381.2" r="1.5" fill="#4a8330"/><circle cx="635.7" cy="375.2" r="1.5" fill="#4a8330"/><circle cx="597.8" cy="367.0" r="1.5" fill="#4a8330"/><circle cx="610.0" cy="369.9" r="1.5" fill="#4a8330"/><circle cx="609.7" cy="372.5" r="1.5" fill="#4a8330"/><circle cx="609.4" cy="374.8" r="1.5" fill="#4a8330"/><circle cx="610.0" cy="377.3" r="1.5" fill="#4a8330"/><circle cx="605.5" cy="377.3" r="1.5" fill="#4a8330"/><circle cx="606.5" cy="377.8" r="1.5" fill="#4a8330"/><circle cx="605.0" cy="378.8" r="1.5" fill="#4a8330"/><circle cx="602.0" cy="379.1" r="1.5" fill="#4a8330"/><circle cx="598.4" cy="378.8" r="1.5" fill="#4a8330"/><circle cx="599.7" cy="381.5" r="1.5" fill="#4a8330"/><circle cx="598.1" cy="375.2" r="1.5" fill="#4a8330"/><circle cx="615.0" cy="374.6" r="1.5" fill="#4a8330"/><line x1="464.4" y1="382.3" x2="645.0" y2="370.6" stroke="#000" stroke-width="1.3" stroke-dasharray="3.6 2.2" stroke-dashoffset="2.9"/><line x1="464.4" y1="381.1" x2="645.0" y2="364.7" stroke="#4a8330" stroke-width="1.3" stroke-dasharray="3.6 2.2" stroke-dashoffset="0"/><text x="548.7" y="224.0" style="font-size:11.8px;color:#222">R<tspan style="font-size:6.88px;stroke:currentColor;stroke-width:0.3" dy="-3.84">2</tspan><tspan dy="3.84"> = 0.1559</tspan></text><text x="548.7" y="241.0" style="font-size:11.8px;fill:#5b9244;color:#5b9244">R<tspan style="font-size:6.88px;stroke:currentColor;stroke-width:0.3" dy="-3.84">2</tspan><tspan dy="3.84"> = 0.0401</tspan></text></g>
</svg></body></html>
